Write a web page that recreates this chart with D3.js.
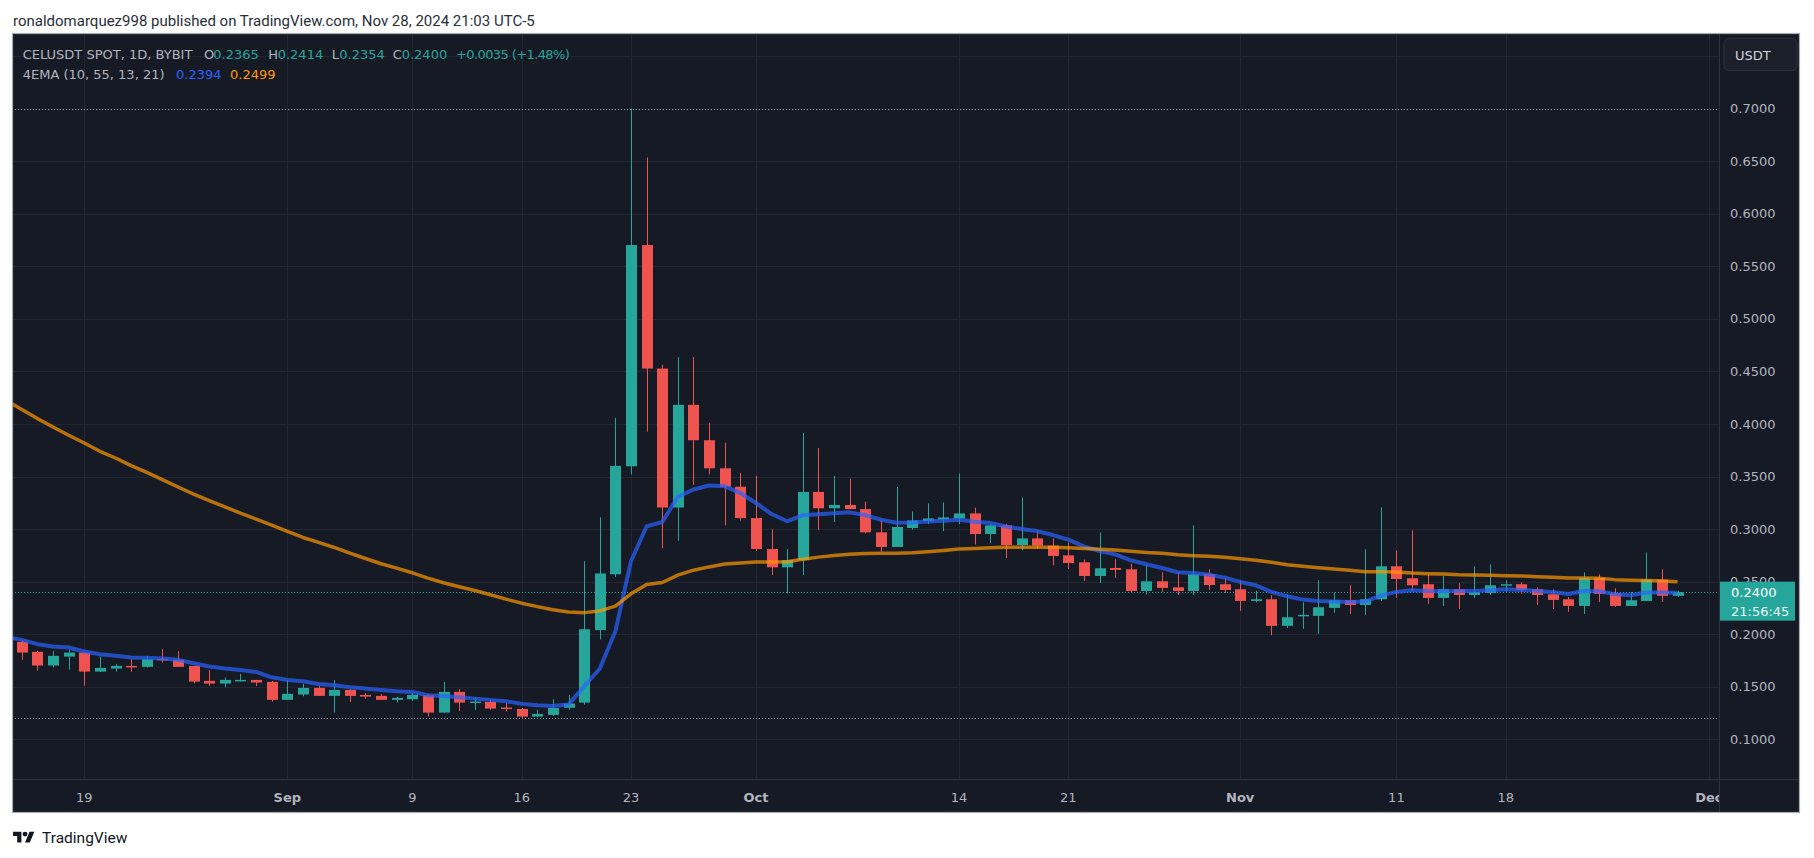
<!DOCTYPE html>
<html>
<head>
<meta charset="utf-8">
<script src="https://cdn.jsdelivr.net/npm/d3@7"></script>
<style>
  body { margin: 0; background: #ffffff; }
  svg { display: block; }
</style>
</head>
<body>
<svg id="chart"></svg>
<script>
// daily candles, first one is 2024-08-15 (UTC)
const firstDay = "2024-08-15";
const opens = [
  .1927, .1832, .1702, .1787, .1825, .1644, .1673, .1698, .1689, .1765,
  .1756, .1698, .1556, .1530, .1556, .1565, .1546, .1375, .1426, .1489,
  .1413, .1470, .1422, .1413, .1375, .1381, .1419, .1254, .1451, .1352,
  .1356, .1302, .1289, .1216, .1232, .1300, .1349, .2039, .2570, .3597,
  .5702, .4527, .3205, .4182, .3845, .3578, .3403, .3105, .2810, .2636,
  .2705, .3353, .3198, .3229, .3190, .2969, .2830, .3010, .3076, .3092,
  .3101, .3149, .2953, .3035, .2848, .2911, .2842, .2750, .2684, .2554,
  .2630, .2617, .2411, .2503, .2446, .2411, .2570, .2475, .2427, .2316,
  .2332, .2079, .2174, .2174, .2250, .2323, .2278, .2332, .2646, .2532,
  .2475, .2345, .2427, .2373, .2392, .2465, .2475, .2427, .2380, .2332,
  .2269, .2535, .2389, .2269, .2316, .2519, .2365
];
const highs = [
  .1946, .1841, .1841, .1851, .1828, .1787, .1717, .1762, .1794, .1857,
  .1841, .1698, .1660, .1590, .1622, .1565, .1556, .1565, .1527, .1508,
  .1565, .1476, .1438, .1432, .1406, .1438, .1429, .1546, .1476, .1400,
  .1375, .1343, .1298, .1280, .1381, .1422, .2694, .3112, .4058, .7000,
  .6535, .4562, .4636, .4636, .4012, .3822, .3535, .3507, .2996, .2810,
  .3915, .3771, .3507, .3481, .3260, .3093, .3400, .3168, .3244, .3253,
  .3528, .3203, .3051, .3051, .3301, .2987, .2911, .2873, .2709, .2968,
  .2712, .2671, .2655, .2589, .2589, .3035, .2617, .2532, .2509, .2414,
  .2370, .2377, .2304, .2513, .2396, .2465, .2807, .3206, .2797, .2987,
  .2570, .2554, .2484, .2646, .2665, .2513, .2494, .2446, .2427, .2354,
  .2589, .2570, .2437, .2402, .2778, .2617, .2414
];
const lows = [
  .1756, .1654, .1683, .1663, .1511, .1640, .1644, .1644, .1683, .1730,
  .1689, .1533, .1508, .1495, .1549, .1508, .1359, .1375, .1410, .1413,
  .1254, .1356, .1384, .1375, .1350, .1365, .1216, .1254, .1270, .1280,
  .1280, .1264, .1200, .1210, .1222, .1280, .1329, .1950, .2543, .3520,
  .3926, .2818, .2888, .3422, .3520, .3035, .3081, .2790, .2564, .2388,
  .2564, .2989, .3066, .3190, .2958, .2783, .2830, .2994, .3047, .2981,
  .3047, .2854, .2867, .2725, .2797, .2810, .2655, .2620, .2506, .2487,
  .2535, .2399, .2377, .2402, .2373, .2373, .2421, .2392, .2222, .2304,
  .1991, .2060, .2050, .2003, .2203, .2193, .2184, .2316, .2345, .2411,
  .2288, .2269, .2240, .2345, .2373, .2392, .2383, .2278, .2240, .2212,
  .2193, .2307, .2260, .2269, .2316, .2307, .2354
];
const closes = [
  .1825, .1702, .1794, .1825, .1644, .1679, .1698, .1689, .1762, .1756,
  .1689, .1549, .1530, .1565, .1565, .1540, .1375, .1432, .1489, .1413,
  .1470, .1413, .1406, .1375, .1394, .1422, .1254, .1451, .1349, .1359,
  .1292, .1289, .1216, .1241, .1298, .1340, .2047, .2578, .3601, .5702,
  .4527, .3205, .4182, .3845, .3578, .3403, .3105, .2810, .2636, .2705,
  .3353, .3198, .3229, .3190, .2969, .2830, .3020, .3082, .3101, .3111,
  .3149, .2953, .3035, .2848, .2911, .2842, .2744, .2677, .2554, .2627,
  .2611, .2411, .2503, .2440, .2411, .2570, .2468, .2421, .2316, .2332,
  .2079, .2161, .2184, .2256, .2323, .2278, .2332, .2646, .2525, .2465,
  .2345, .2427, .2373, .2399, .2465, .2475, .2421, .2373, .2326, .2269,
  .2535, .2383, .2269, .2323, .2519, .2365, .2400
];

// 4EMA lines, starting one day earlier (2024-08-14)
const emaFirstDay = "2024-08-14";
const emaFast = [
  .1975,
  .1946, .1905, .1883, .1873, .1835, .1810, .1794, .1778, .1775, .1768,
  .1756, .1724, .1692, .1673, .1660, .1641, .1590, .1565, .1552, .1527,
  .1514, .1495, .1483, .1470, .1457, .1451, .1419, .1413, .1400, .1387,
  .1375, .1362, .1337, .1324, .1317, .1330, .1504, .1671, .2027, .2694,
  .3027, .3066, .3306, .3376, .3415, .3407, .3345, .3248, .3143, .3074,
  .3132, .3140, .3151, .3159, .3132, .3089, .3060, .3063, .3073, .3079,
  .3089, .3070, .3057, .3025, .3000, .2981, .2943, .2899, .2835, .2791,
  .2759, .2703, .2665, .2630, .2589, .2582, .2566, .2538, .2497, .2465,
  .2402, .2361, .2329, .2316, .2310, .2307, .2310, .2367, .2402, .2418,
  .2411, .2408, .2411, .2411, .2418, .2427, .2421, .2411, .2402, .2383,
  .2411, .2408, .2380, .2370, .2396, .2396, .2394
];
const emaSlow = [
  .4225,
  .4137, .4051, .3971, .3892, .3819, .3740, .3676, .3603, .3540, .3470,
  .3400, .3333, .3270, .3210, .3152, .3095, .3038, .2978, .2920, .2873,
  .2825, .2771, .2720, .2670, .2629, .2584, .2533, .2489, .2451, .2416,
  .2375, .2333, .2295, .2262, .2232, .2212, .2205, .2221, .2267, .2384,
  .2473, .2492, .2562, .2609, .2640, .2667, .2678, .2686, .2686, .2690,
  .2713, .2733, .2748, .2760, .2768, .2770, .2770, .2775, .2785, .2797,
  .2810, .2816, .2823, .2826, .2826, .2826, .2826, .2823, .2816, .2807,
  .2801, .2788, .2778, .2769, .2756, .2747, .2741, .2731, .2718, .2703,
  .2684, .2660, .2646, .2633, .2620, .2608, .2595, .2595, .2592, .2582,
  .2576, .2573, .2566, .2563, .2560, .2557, .2554, .2547, .2541, .2535,
  .2535, .2532, .2519, .2513, .2510, .2506, .2499
];

// axis ticks
const timeTickDates = ["2024-08-19", "2024-09-01", "2024-09-09", "2024-09-16", "2024-09-23",
  "2024-10-01", "2024-10-14", "2024-10-21", "2024-11-01", "2024-11-11", "2024-11-18", "2024-12-01"];
const timeTickLabels = ["19", "Sep", "9", "16", "23", "Oct", "14", "21", "Nov", "11", "18", "Dec"];
const gridPrices = [0.10, 0.15, 0.20, 0.25, 0.30, 0.35, 0.40, 0.45, 0.50, 0.55, 0.60, 0.65, 0.70, 0.75];
const priceLabels = [0.10, 0.15, 0.20, 0.25, 0.30, 0.35, 0.40, 0.45, 0.50, 0.55, 0.60, 0.65, 0.70];

const UP = "#26a69a", DOWN = "#ef5350";
const BG = "#161a25", GRID = "#222631", SEP = "#2e3240", TEXT = "#b2b5be";
const FONT = "'DejaVu Sans', sans-serif";

const W = 1814, H = 858;
const plotL = 12, plotT = 33, plotR = 1719, plotB = 779, outerR = 1800, outerB = 813;

const parse = d3.utcParse("%Y-%m-%d");
const days = d3.utcDay.range(parse(firstDay), d3.utcDay.offset(parse(firstDay), closes.length));
const emaDays = d3.utcDay.range(parse(emaFirstDay), d3.utcDay.offset(parse(emaFirstDay), emaFast.length));
const candles = days.map((d, i) => ({date: d, o: opens[i], h: highs[i], l: lows[i], c: closes[i]}));

const x = d3.scaleUtc()
  .domain([parse("2024-08-15"), parse("2024-12-01")])
  .range([21.8, 1708.8]);
const y = d3.scaleLinear()
  .domain([0.1, 0.7])
  .range([739.3, 108.6]);

const svg = d3.select("#chart").attr("width", W).attr("height", H);

// header text
svg.append("text")
  .attr("x", 13).attr("y", 26)
  .attr("font-family", "Roboto, sans-serif").attr("font-size", 15)
  .attr("fill", "#2a2e39")
  .text("ronaldomarquez998 published on TradingView.com, Nov 28, 2024 21:03 UTC-5");

// panel
svg.append("rect")
  .attr("x", plotL).attr("y", plotT)
  .attr("width", outerR - plotL).attr("height", outerB - plotT)
  .attr("fill", BG);

svg.append("clipPath").attr("id", "plot-clip")
  .append("rect")
  .attr("x", plotL).attr("y", plotT)
  .attr("width", plotR - plotL).attr("height", plotB - plotT);

const plot = svg.append("g").attr("clip-path", "url(#plot-clip)");

// grid
plot.append("g")
  .selectAll("line")
  .data(gridPrices)
  .enter().append("line")
  .attr("x1", plotL).attr("x2", plotR)
  .attr("y1", d => Math.round(y(d)) + 0.5)
  .attr("y2", d => Math.round(y(d)) + 0.5)
  .attr("stroke", GRID).attr("stroke-width", 1);

plot.append("g")
  .selectAll("line")
  .data(timeTickDates)
  .enter().append("line")
  .attr("x1", d => Math.round(x(parse(d))) + 0.5)
  .attr("x2", d => Math.round(x(parse(d))) + 0.5)
  .attr("y1", plotT).attr("y2", plotB)
  .attr("stroke", GRID).attr("stroke-width", 1);

// high / low markers and last price line
const maxHigh = d3.max(highs), minLow = d3.min(lows);
const lastClose = closes[closes.length - 1];
[[maxHigh, "#9598a1"], [minLow, "#9598a1"], [lastClose, UP]].forEach(([v, col]) => {
  plot.append("line")
    .attr("x1", plotL).attr("x2", plotR)
    .attr("y1", Math.round(y(v)) + 0.5).attr("y2", Math.round(y(v)) + 0.5)
    .attr("stroke", col).attr("stroke-width", 1)
    .attr("stroke-dasharray", "1,2");
});

// candles
const bodyW = 11;
const candle = plot.append("g")
  .selectAll("g")
  .data(candles)
  .enter().append("g");

candle.append("line")
  .attr("x1", d => Math.round(x(d.date)) + 0.5)
  .attr("x2", d => Math.round(x(d.date)) + 0.5)
  .attr("y1", d => y(d.h))
  .attr("y2", d => y(d.l))
  .attr("stroke", d => d.c >= d.o ? UP : DOWN)
  .attr("stroke-width", 1);

candle.append("rect")
  .attr("x", d => Math.round(x(d.date)) + 0.5 - bodyW / 2)
  .attr("y", d => y(Math.max(d.o, d.c)))
  .attr("width", bodyW)
  .attr("height", d => Math.max(1.5, Math.abs(y(d.o) - y(d.c))))
  .attr("fill", d => d.c >= d.o ? UP : DOWN);

// EMA lines
const emaLine = vals => d3.line()
  .x((d, i) => x(emaDays[i]))
  .y(d => y(d))(vals);

plot.append("path")
  .attr("d", emaLine(emaFast))
  .attr("fill", "none")
  .attr("stroke", "#2962ff").attr("stroke-opacity", 0.7)
  .attr("stroke-width", 4).attr("stroke-linejoin", "round");

plot.append("path")
  .attr("d", emaLine(emaSlow))
  .attr("fill", "none")
  .attr("stroke", "#ff9800").attr("stroke-opacity", 0.7)
  .attr("stroke-width", 3.5).attr("stroke-linejoin", "round");

// legend
const last = candles[candles.length - 1];
const prevClose = closes[closes.length - 2];
const chg = last.c - prevClose;
const fmt = d3.format(".4f");
const legend1 = [
  [22.7, "CELUSDT SPOT, 1D, BYBIT", TEXT],
  [204, "O", TEXT], [213.3, fmt(last.o), UP],
  [268.3, "H", TEXT], [277.7, fmt(last.h), UP],
  [331.7, "L", TEXT], [339.3, fmt(last.l), UP],
  [392.7, "C", TEXT], [401.7, fmt(last.c), UP],
  [456, (chg >= 0 ? "+" : "") + fmt(chg) + " (" + (chg >= 0 ? "+" : "") + d3.format(".2f")(chg / prevClose * 100) + "%)", UP]
];
const legend2 = [
  [22.7, "4EMA (10, 55, 13, 21)", TEXT],
  [176, fmt(emaFast[emaFast.length - 1]), "#2962ff"],
  [230, fmt(emaSlow[emaSlow.length - 1]), "#ff9800"]
];
[[legend1, 58.5], [legend2, 78.8]].forEach(([items, by]) => {
  svg.append("g")
    .selectAll("text")
    .data(items)
    .enter().append("text")
    .attr("x", d => d[0]).attr("y", by)
    .attr("font-family", FONT).attr("font-size", 13)
    .attr("letter-spacing", d => d[1].startsWith("+") ? -0.6 : 0)
    .attr("fill", d => d[2])
    .text(d => d[1]);
});

// time axis
svg.append("g")
  .selectAll("text")
  .data(timeTickDates)
  .enter().append("text")
  .attr("x", d => x(parse(d)))
  .attr("y", 801.5)
  .attr("text-anchor", "middle")
  .attr("font-family", FONT).attr("font-size", 13)
  .attr("font-weight", (d, i) => isNaN(+timeTickLabels[i]) ? "bold" : "normal")
  .attr("fill", TEXT)
  .text((d, i) => timeTickLabels[i]);

// price axis
svg.append("rect")
  .attr("x", plotR).attr("y", plotT)
  .attr("width", outerR - plotR).attr("height", outerB - plotT)
  .attr("fill", BG);

svg.append("g")
  .selectAll("text")
  .data(priceLabels)
  .enter().append("text")
  .attr("x", 1730)
  .attr("y", d => y(d) + 4.6)
  .attr("font-family", FONT).attr("font-size", 13)
  .attr("fill", TEXT)
  .text(d => d.toFixed(4));

// separators
svg.append("line")
  .attr("x1", plotL).attr("x2", outerR)
  .attr("y1", plotB + 0.5).attr("y2", plotB + 0.5)
  .attr("stroke", SEP);
svg.append("line")
  .attr("x1", plotR + 0.5).attr("x2", plotR + 0.5)
  .attr("y1", plotT).attr("y2", outerB)
  .attr("stroke", SEP);

// currency button
svg.append("rect")
  .attr("x", 1724).attr("y", 38.5).attr("width", 73).attr("height", 32).attr("rx", 5)
  .attr("fill", "#1c202b").attr("stroke", "#2e3240");
svg.append("text")
  .attr("x", 1735).attr("y", 59.5)
  .attr("font-family", FONT).attr("font-size", 13)
  .attr("fill", "#d1d4dc")
  .text("USDT");

// last price label
const ly = y(lastClose);
svg.append("rect")
  .attr("x", 1720).attr("y", ly - 10.5).attr("width", 75).attr("height", 39)
  .attr("fill", UP);
svg.append("text")
  .attr("x", 1731).attr("y", ly + 4.6)
  .attr("font-family", FONT).attr("font-size", 13)
  .attr("fill", "#ffffff")
  .text(fmt(lastClose));
svg.append("text")
  .attr("x", 1731).attr("y", ly + 23.5)
  .attr("font-family", FONT).attr("font-size", 13)
  .attr("fill", "#e8f6f4")
  .text("21:56:45");

// outer border
svg.append("rect")
  .attr("x", plotL + 0.5).attr("y", plotT + 0.5)
  .attr("width", outerR - plotL - 1).attr("height", outerB - plotT - 1)
  .attr("fill", "none").attr("stroke", "#a9acb5").attr("stroke-width", 1.2);

// footer logo
const logo = svg.append("g").attr("transform", "translate(13,829.3) scale(0.6)");
logo.append("path")
  .attr("d", "M14 22H7V11H0V4h14v18zM28 22h-8l7.5-18h8L28 22z")
  .attr("fill", "#131722");
logo.append("circle").attr("cx", 20).attr("cy", 8).attr("r", 4).attr("fill", "#131722");
svg.append("text")
  .attr("x", 42).attr("y", 843)
  .attr("font-family", "Roboto, sans-serif").attr("font-size", 15.5)
  .attr("fill", "#131722")
  .text("TradingView");
</script>
</body>
</html>
